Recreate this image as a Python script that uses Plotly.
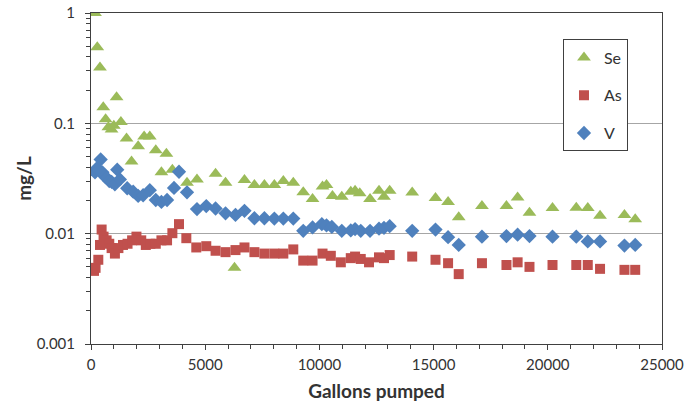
import plotly.graph_objects as go

# Selenium concentration (mg/L) vs. gallons pumped
se_x = [175, 276, 393, 537, 640, 760, 900, 1000, 1120, 1309, 1557, 1774, 2065, 2326, 2574,
        2836, 3083, 3301, 3563, 4203, 4640, 5454, 5890, 6283, 6720, 7155, 7592, 8028, 8421,
        8857, 9293, 9700, 10137, 10311, 10573, 10980, 11374, 11562, 11767, 12217, 12610,
        12828, 13077, 14063, 15083, 15634, 16100, 17117, 18190, 18678, 19198, 20206, 21248,
        21750, 22287, 23356, 23827]
se_y = [1.0, 0.49, 0.32, 0.14, 0.109, 0.092, 0.088, 0.095, 0.172, 0.103, 0.073, 0.045, 0.062,
        0.076, 0.076, 0.057, 0.036, 0.053, 0.038, 0.029, 0.031, 0.035, 0.029, 0.0049, 0.0306,
        0.0276, 0.0276, 0.0276, 0.030, 0.029, 0.0237, 0.0206, 0.0267, 0.0276, 0.0219, 0.0216,
        0.024, 0.0245, 0.0233, 0.0206, 0.0245, 0.0216, 0.0245, 0.0236, 0.021, 0.0194, 0.0141,
        0.0178, 0.0178, 0.0213, 0.0155, 0.0171, 0.0172, 0.0171, 0.0145, 0.0148, 0.0135]

# Arsenic
as_x = [131, 200, 320, 393, 465, 550, 684, 800, 902, 1047, 1200, 1400, 1600, 1800, 1990, 2200,
        2400, 2600, 2836, 3083, 3330, 3563, 3853, 4174, 4610, 5047, 5454, 5890, 6326, 6720,
        7155, 7592, 8028, 8421, 8857, 9293, 9700, 10137, 10500, 10938, 11374, 11562, 11811,
        12173, 12610, 12828, 13077, 14063, 15083, 15634, 16100, 17117, 18190, 18678, 19198,
        20206, 21248, 21750, 22287, 23356, 23827]
as_y = [0.0046, 0.0049, 0.0058, 0.0079, 0.0109, 0.0094, 0.0087, 0.0081, 0.0074, 0.0066, 0.0074,
        0.0079, 0.0081, 0.0087, 0.0094, 0.0087, 0.0079, 0.0081, 0.0081, 0.0087, 0.0087, 0.0101,
        0.0122, 0.0091, 0.0075, 0.0077, 0.0070, 0.0068, 0.0071, 0.0075, 0.0068, 0.0066, 0.0066,
        0.0066, 0.0072, 0.0057, 0.0057, 0.0066, 0.0063, 0.0055, 0.0060, 0.0062, 0.0059, 0.0055,
        0.0061, 0.0060, 0.0064, 0.0062, 0.0058, 0.0054, 0.0043, 0.0054, 0.0052, 0.0055, 0.0050,
        0.0052, 0.0052, 0.0052, 0.0048, 0.0047, 0.0047]

# Vanadium
v_x = [175, 250, 330, 423, 500, 600, 684, 800, 902, 1047, 1149, 1265, 1585, 1847, 2065, 2283,
       2574, 2836, 3083, 3330, 3635, 3853, 4203, 4640, 5047, 5454, 5890, 6326, 6720, 7155,
       7592, 8028, 8421, 8857, 9293, 9700, 10107, 10311, 10544, 10980, 11374, 11562, 11811,
       12217, 12610, 12828, 13077, 14063, 15083, 15634, 16100, 17117, 18190, 18678, 19198,
       20206, 21248, 21750, 22287, 23356, 23827]
v_y = [0.036, 0.039, 0.038, 0.047, 0.036, 0.033, 0.032, 0.030, 0.0295, 0.028, 0.038, 0.031,
       0.0258, 0.024, 0.022, 0.0223, 0.0248, 0.0202, 0.0194, 0.0202, 0.026, 0.0364, 0.0237,
       0.0167, 0.0178, 0.0169, 0.0153, 0.0148, 0.0161, 0.0138, 0.0138, 0.0137, 0.0137, 0.0137,
       0.0106, 0.0114, 0.0122, 0.0119, 0.0115, 0.0106, 0.0107, 0.0110, 0.0106, 0.0106, 0.0111,
       0.0113, 0.0117, 0.0106, 0.0109, 0.0093, 0.0079, 0.0094, 0.0095, 0.0098, 0.0095, 0.0094,
       0.0094, 0.0085, 0.0085, 0.0078, 0.0079]

# Log-axis minor tick positions (2..9 within each decade)
y_minor = [m * 10.0 ** e for e in (-3, -2, -1) for m in range(2, 10)]

FONT = "Lato"
AXIS_COLOR = "#404040"
TEXT_COLOR = "#333333"

fig = go.Figure()
fig.add_trace(go.Scatter(x=se_x, y=se_y, mode="markers", name="Se", legendgroup="se",
                         marker=dict(symbol="triangle-up", size=12, color="#9BBB59")))
fig.add_trace(go.Scatter(x=as_x, y=as_y, mode="markers", name="As", legendgroup="as",
                         marker=dict(symbol="square", size=10, color="#C0504D")))
fig.add_trace(go.Scatter(x=v_x, y=v_y, mode="markers", name="V", legendgroup="v",
                         marker=dict(symbol="diamond", size=11, color="#4F81BD")))

fig.update_layout(
    width=684, height=408,
    margin=dict(l=91, r=22, t=13, b=64),
    paper_bgcolor="white", plot_bgcolor="white",
    font=dict(family=FONT, size=15, color=TEXT_COLOR),
    showlegend=True,
    legend=dict(x=0.8266, y=0.92, xanchor="left", yanchor="top",
                bordercolor="#404040", borderwidth=1, bgcolor="white",
                font=dict(family=FONT, size=16, color=TEXT_COLOR),
                tracegroupgap=14, itemwidth=30),
)

fig.update_xaxes(
    range=[0, 25000], dtick=5000, tick0=0, tickformat="d", automargin=False,
    ticklabeloverflow="allow", ticklabelstandoff=2,
    showline=True, linecolor=AXIS_COLOR, linewidth=1, mirror=True,
    showgrid=False, zeroline=False,
    ticks="outside", ticklen=5, tickcolor=AXIS_COLOR,
    minor=dict(dtick=1000, ticks="outside", ticklen=4, tickcolor=AXIS_COLOR, showgrid=False),
    tickfont=dict(family=FONT, size=15),
    title=dict(text="<b>Gallons pumped</b>", font=dict(family=FONT, size=19, color=TEXT_COLOR),
               standoff=12),
)

fig.update_yaxes(
    type="log", range=[-3, 0], dtick=1, tickformat="~g", automargin=False,
    ticklabelstandoff=7,
    showline=True, linecolor=AXIS_COLOR, linewidth=1, mirror=True,
    showgrid=True, gridcolor="#A6A6A6", gridwidth=1, zeroline=False,
    ticks="outside", ticklen=5, tickcolor=AXIS_COLOR,
    minor=dict(tickmode="array", tickvals=y_minor, ticks="outside", ticklen=4,
               tickcolor=AXIS_COLOR, showgrid=False),
    tickfont=dict(family=FONT, size=15),
    title=dict(text="<b>mg/L</b>", font=dict(family=FONT, size=19, color=TEXT_COLOR),
               standoff=0),
)

fig.write_html("out.html")
